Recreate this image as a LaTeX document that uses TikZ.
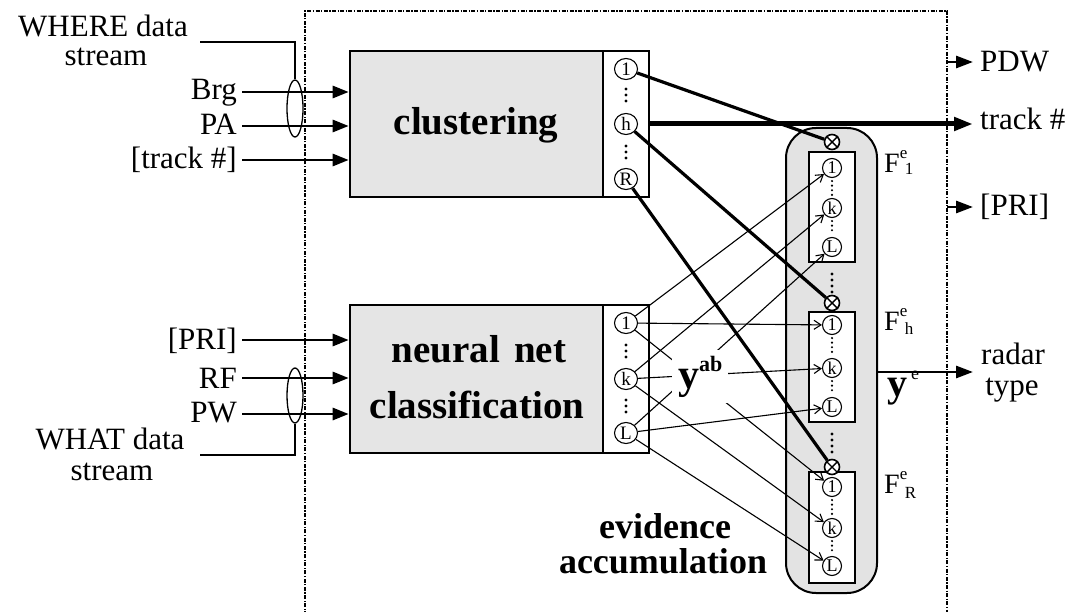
\documentclass[tikz,border=0pt]{standalone}
\usepackage{fontspec}
\setmainfont{Liberation Serif}
\usetikzlibrary{arrows.meta,calc,shapes.geometric}

\definecolor{blockgray}{gray}{0.9}
\definecolor{colgray}{gray}{0.89}
\newcommand\fsz[1]{\fontsize{#1}{#1}\selectfont}

\begin{document}
\begin{tikzpicture}[x=1pt,y=-1pt,
  blockbox/.style={draw, line width=2.6pt, fill=blockgray, inner sep=0pt},
  outcol/.style={draw, line width=2.6pt, fill=white, inner sep=0pt},
  fbox/.style={draw, line width=2.4pt, fill=white, inner sep=0pt, minimum width=46pt},
  unit/.style={ellipse, draw, fill=white, line width=1.1pt, minimum width=23pt, minimum height=21pt, inner sep=0pt, font=\fsz{19}},
  funit/.style={circle, draw, fill=white, line width=1.1pt, minimum size=19pt, inner sep=0pt, font=\fsz{18}},
  prod/.style={circle, draw, fill=white, line width=1.6pt, minimum size=15pt, inner sep=0pt},
  bundle/.style={ellipse, draw, line width=1.3pt, minimum width=16pt, inner sep=0pt},
  wire/.style={line width=1.3pt},
  inarrow/.style={line width=2.8pt, -{Triangle[length=16pt,width=12pt]}},
  outarrow/.style={line width=2.8pt, -{Triangle[length=17pt,width=12pt]}},
  trackarrow/.style={line width=5pt, -{Triangle[length=19pt,width=13pt]}},
  gatewire/.style={line width=3.2pt},
  votearrow/.style={line width=1.1pt, -{Straight Barb[length=7pt,width=9pt,line width=1.1pt]}},
  dotcol/.style={line width=2.4pt, line cap=round, dash pattern=on 0pt off 4.6pt},
  frame/.style={line width=1.4pt, dash pattern=on 4pt off 1.5pt on 1.2pt off 1.5pt},
  lbl/.style={font=\fsz{31}, inner sep=0pt},
  blocklbl/.style={font=\bfseries\fsz{39}, inner sep=0pt},
]
\useasboundingbox (0,0) rectangle (1075,612);

% system boundary
\draw[frame] (305,640) -- (305,11) -- (947,11) -- (947,640);

% processing blocks with their output columns
\node[blockbox, minimum width=253pt, minimum height=146pt] (clu) at (476.5,124) {};
\node[outcol, minimum width=46pt, minimum height=146pt] (cluout) at (626,124) {};
\node[blockbox, minimum width=253pt, minimum height=148pt] (nn) at (476.5,379) {};
\node[outcol, minimum width=46pt, minimum height=148pt] (nnout) at (626,379) {};

\node[blocklbl, anchor=base] (tclu) at (476,135) {clustering};
\node[blocklbl, anchor=base] (tnn1) at (479,362) {neural\hspace{4pt} net};
\node[blocklbl, anchor=base] (tnn2) at (477,418) {classification};

% evidence accumulation column
\node[draw, line width=2pt, fill=colgray, rounded corners=30pt,
      minimum width=91pt, minimum height=465pt] (col) at (831.5,360.5) {};
\node[fbox, minimum height=110pt] (F1) at (832,207) {};
\node[fbox, minimum height=110pt] (Fh) at (832,367) {};
\node[fbox, minimum height=111pt] (FR) at (832,527.5) {};

% cluster outputs
\node[unit] (c1) at (626,69) {1};
\node[unit] (ch) at (626,124) {h};
\node[unit] (cR) at (626,179) {R};
% classifier outputs
\node[unit] (n1) at (626,323) {1};
\node[unit] (nk) at (626,379) {k};
\node[unit] (nL) at (626,433) {L};

\foreach \y in {89,95,101,146,152,158,345,351,357,400,406,412}
  \fill (626,\y) circle (1.7pt);

% accumulator units
\node[funit] (f1a) at (832,168) {1};
\node[funit] (f1k) at (832,208) {k};
\node[funit] (f1L) at (832,247) {L};
\node[funit] (fha) at (832,325) {1};
\node[funit] (fhk) at (832,368) {k};
\node[funit] (fhL) at (832,407) {L};
\node[funit] (fRa) at (832,487) {1};
\node[funit] (fRk) at (832,528) {k};
\node[funit] (fRL) at (832,566) {L};

\foreach \a/\b in {f1a/f1k, f1k/f1L, fha/fhk, fhk/fhL, fRa/fRk, fRk/fRL}
  \draw[dotcol] ([yshift=-3pt]\a.south) -- ([yshift=3pt]\b.north);

\foreach \y in {274,280,286,292,434,440,446,452}
  \fill (832,\y) circle (1.7pt);

% gating products
\foreach \p/\y in {o1/142, oh/303, oR/467} {
  \node[prod] (\p) at (832,\y) {};
  \draw[line width=1.4pt] (\p.north east) -- (\p.south west);
  \draw[line width=1.4pt] (\p.north west) -- (\p.south east);
}

\node[anchor=base west, inner sep=0pt] (lF1) at (884,173)
  {\fsz{28}F\rlap{\raisebox{14pt}{\fsz{17}e}}\hspace{5pt}\raisebox{-2pt}{\fsz{17}1}};
\node[anchor=base west, inner sep=0pt] (lFh) at (884,330)
  {\fsz{28}F\rlap{\raisebox{14pt}{\fsz{17}e}}\hspace{5pt}\raisebox{-4pt}{\fsz{17}h}};
\node[anchor=base west, inner sep=0pt] (lFR) at (884,493)
  {\fsz{28}F\rlap{\raisebox{14pt}{\fsz{17}e}}\hspace{5pt}\raisebox{-5pt}{\fsz{17}R}};

% cluster gating wires
\draw[gatewire] (c1) -- (o1);
\draw[gatewire] (ch) -- (oh);
\draw[gatewire] (cR) -- (oR);

% classifier votes
\foreach \s/\t in {n1/f1a, n1/fha, n1/fRa, nk/f1k, nk/fhk, nk/fRk, nL/f1L, nL/fhL, nL/fRL}
  \draw[votearrow] (\s) -- (\t);

\node[fill=white, inner xsep=6pt, inner ysep=6pt, anchor=base west] (yab) at (672,388)
  {{\bfseries\fsz{42}y}\raisebox{17pt}{\bfseries\fsz{22}ab}};

\node[blocklbl, font=\bfseries\fsz{36}, anchor=base] (tev1) at (665,538) {evidence};
\node[blocklbl, font=\bfseries\fsz{36}, anchor=base] (tev2) at (663,573) {accumulation};

% inputs of the clustering block
\node[lbl, anchor=base east] (tBrg) at (237,100) {Brg};
\node[lbl, anchor=base east] (tPA) at (237,135) {PA};
\node[lbl, anchor=base east] (tTrk) at (237,169) {[track \#]};
\coordinate (aBrg) at (242,92);
\coordinate (aPA) at (242,126);
\coordinate (aTrk) at (242,160);
\draw[inarrow] (aBrg) -- (aBrg -| clu.west);
\draw[inarrow] (aPA) -- (aPA -| clu.west);
\draw[inarrow] (aTrk) -- (aTrk -| clu.west);

\node[bundle, minimum height=57pt] (ellW) at (295,108.5) {};
\coordinate (whereL) at (200,42);
\draw[wire] (whereL) -| (ellW.north);
\node[lbl, anchor=base] (tw1) at (103,37) {WHERE data};
\node[lbl, anchor=base] (tw2) at (106,66) {stream};

% inputs of the classifier block
\node[lbl, anchor=base east] (tPRI) at (237,349) {[PRI]};
\node[lbl, anchor=base east] (tRF) at (237,388) {RF};
\node[lbl, anchor=base east] (tPW) at (237,422) {PW};
\coordinate (aPRI) at (242,340);
\coordinate (aRF) at (242,378);
\coordinate (aPW) at (242,414);
\draw[inarrow] (aPRI) -- (aPRI -| nn.west);
\draw[inarrow] (aRF) -- (aRF -| nn.west);
\draw[inarrow] (aPW) -- (aPW -| nn.west);

\node[bundle, minimum height=55pt] (ellH) at (295,395.5) {};
\coordinate (whatL) at (200,455);
\draw[wire] (ellH.south) |- (whatL);
\node[lbl, anchor=base] (th1) at (110,449) {WHAT data};
\node[lbl, anchor=base] (th2) at (112,480) {stream};

% outputs
\coordinate (pdwS) at (947,62);
\coordinate (pdwE) at (973,62);
\draw[outarrow] (pdwS) -- (pdwE);
\node[lbl, anchor=base west] (tPDW) at (980,72) {PDW};

\coordinate (trkE) at (973,124);
\draw[trackarrow] (cluout.east |- ch) -- (trkE);
\node[lbl, anchor=base west] (tTrkOut) at (980,130) {track \#};

\coordinate (priS) at (947,207);
\coordinate (priE) at (973,207);
\draw[outarrow] (priS) -- (priE);
\node[lbl, anchor=base west] (tPRIout) at (980,216) {[PRI]};

\coordinate (radE) at (973,372);
\draw[outarrow] (radE -| col.east) -- (radE);
\node[lbl, anchor=base] (trad1) at (1013,364) {radar};
\node[lbl, anchor=base] (trad2) at (1012,395) {type};

\node[anchor=base west, inner sep=0pt] (ye) at (887,396)
  {{\bfseries\fsz{40}y}\hspace{4pt}\raisebox{17pt}{\fsz{18}e}};
\end{tikzpicture}
\end{document}
